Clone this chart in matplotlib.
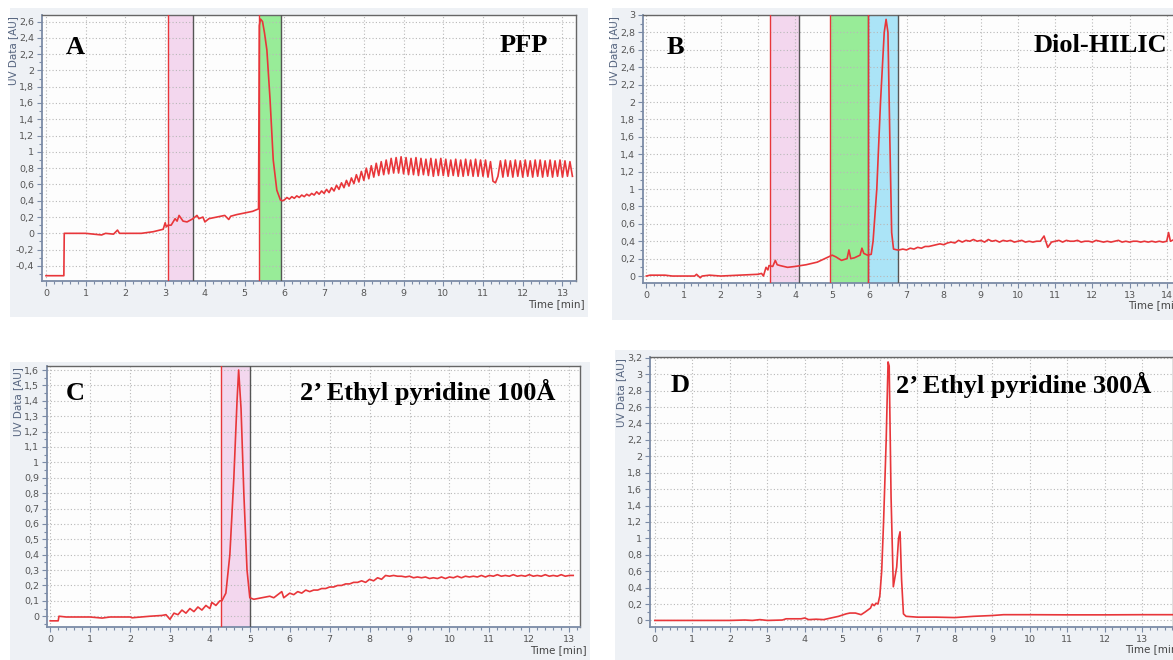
import numpy as np
import matplotlib
matplotlib.use('Agg')
import matplotlib.pyplot as plt
from matplotlib.patches import Rectangle
from matplotlib.ticker import MultipleLocator, FuncFormatter

# ---- Panel A (PFP) ----
a_t = [0, 0.45, 0.46, 0.6, 0.8, 1.0, 1.2, 1.4, 1.5, 1.7, 1.8, 1.85, 2.0, 2.4, 2.7, 2.95,
       3.0, 3.03, 3.07, 3.15, 3.25, 3.3, 3.35, 3.45, 3.55, 3.7, 3.8, 3.85, 3.95, 4.0, 4.1,
       4.3, 4.5, 4.6, 4.65, 4.8, 5.0, 5.2, 5.35, 5.37, 5.4, 5.45, 5.5, 5.56, 5.64, 5.72,
       5.81, 5.9, 5.95]
a_v = [-0.52, -0.52, 0.0, 0.0, 0.0, 0.0, -0.01, -0.02, 0.0, -0.01, 0.04, 0.0, 0.0, 0.0, 0.02, 0.05,
       0.13, 0.08, 0.1, 0.1, 0.18, 0.15, 0.22, 0.15, 0.14, 0.18, 0.22, 0.18, 0.2, 0.14, 0.18,
       0.2, 0.22, 0.17, 0.21, 0.23, 0.25, 0.27, 0.3, 2.55, 2.63, 2.6, 2.46, 2.25, 1.64, 0.9,
       0.53, 0.41, 0.40]
# oscillating baseline after the peak, one reading every 0.0625 min from 6.0 min
a_osc_start, a_osc_step = 6.0, 0.0625
a_osc = [0.41, 0.44, 0.42, 0.45, 0.43, 0.46, 0.44, 0.47, 0.45, 0.48, 0.46, 0.49, 0.47, 0.51, 0.48, 0.52,
         0.49, 0.54, 0.50, 0.56, 0.52, 0.59, 0.54, 0.62, 0.56, 0.65, 0.58, 0.68, 0.61, 0.72, 0.63, 0.76,
         0.65, 0.80, 0.67, 0.83, 0.69, 0.86, 0.71, 0.88, 0.72, 0.90, 0.73, 0.92, 0.74, 0.93, 0.74, 0.94,
         0.73, 0.93, 0.72, 0.92, 0.72, 0.93, 0.71, 0.92, 0.72, 0.91, 0.71, 0.92, 0.70, 0.91, 0.71, 0.92,
         0.71, 0.91, 0.70, 0.90, 0.71, 0.91, 0.70, 0.90, 0.70, 0.91, 0.71, 0.90, 0.70, 0.91, 0.70, 0.90,
         0.70, 0.90, 0.69, 0.88, 0.64, 0.62, 0.70, 0.89, 0.69, 0.90, 0.70, 0.89, 0.69, 0.90, 0.70, 0.89,
         0.69, 0.90, 0.70, 0.89, 0.69, 0.90, 0.70, 0.90, 0.69, 0.89, 0.70, 0.90, 0.69, 0.89, 0.70, 0.90,
         0.69, 0.89, 0.70, 0.88, 0.70]
a_bands = [(3.07, 3.69, '#f3d7ee'), (5.35, 5.92, '#98ec98')]

# ---- Panel B (Diol-HILIC) ----
b_t = [0, 0.1, 0.3, 0.5, 0.7, 1.0, 1.3, 1.35, 1.45, 1.5, 1.7, 2.0, 2.5, 3.0, 3.1, 3.15, 3.22,
       3.27, 3.3, 3.4, 3.47, 3.52, 3.6, 3.8, 4.0, 4.3, 4.6, 4.9, 5.0, 5.1, 5.25, 5.4, 5.45,
       5.5, 5.6, 5.75, 5.8, 5.85, 5.95, 6.05, 6.1, 6.2, 6.3, 6.4, 6.45, 6.5, 6.55, 6.6, 6.65, 6.75]
b_v = [0.0, 0.01, 0.01, 0.01, 0.0, 0.0, 0.0, 0.02, -0.02, 0.0, 0.01, 0.0, 0.01, 0.02, 0.03, 0.0, 0.1,
       0.07, 0.12, 0.11, 0.18, 0.13, 0.12, 0.10, 0.11, 0.13, 0.16, 0.22, 0.24, 0.22, 0.18, 0.2, 0.3,
       0.2, 0.21, 0.24, 0.32, 0.26, 0.24, 0.25, 0.4, 1.0, 2.0, 2.8, 2.95, 2.8, 1.6, 0.5, 0.31, 0.30]
b_tail_t = [6.8, 6.9, 7.0, 7.1, 7.2, 7.3, 7.4, 7.5, 7.6, 7.7, 7.8, 7.9, 8.0, 8.1, 8.2, 8.3, 8.4,
            8.5, 8.6, 8.7, 8.8, 8.9, 9.0, 9.1, 9.2, 9.3, 9.4, 9.5, 9.6, 9.7, 9.8, 9.9, 10.0,
            10.1, 10.2, 10.3, 10.4, 10.5, 10.6, 10.7, 10.8, 10.9, 11.0, 11.1, 11.2, 11.3, 11.4,
            11.5, 11.6, 11.7, 11.8, 11.9, 12.0, 12.1, 12.2, 12.3, 12.4, 12.5, 12.6, 12.7, 12.8,
            12.9, 13.0, 13.1, 13.2, 13.3, 13.4, 13.5, 13.6, 13.7, 13.8, 13.9, 14.0, 14.05, 14.1, 14.2]
b_tail_v = [0.30, 0.31, 0.30, 0.32, 0.31, 0.33, 0.32, 0.34, 0.34, 0.35, 0.36, 0.37, 0.36, 0.38,
            0.39, 0.38, 0.41, 0.39, 0.41, 0.40, 0.42, 0.40, 0.41, 0.39, 0.42, 0.40, 0.41, 0.39,
            0.41, 0.40, 0.41, 0.39, 0.40, 0.41, 0.39, 0.40, 0.39, 0.40, 0.40, 0.46, 0.33, 0.39,
            0.40, 0.41, 0.39, 0.41, 0.40, 0.40, 0.41, 0.39, 0.40, 0.40, 0.39, 0.41, 0.40, 0.39,
            0.40, 0.39, 0.40, 0.41, 0.39, 0.40, 0.39, 0.40, 0.40, 0.39, 0.40, 0.39, 0.40, 0.39,
            0.40, 0.39, 0.40, 0.50, 0.40, 0.42]
b_bands = [(3.34, 4.11, '#f3d7ee'), (4.94, 5.97, '#98ec98'), (5.97, 6.78, '#abe4f7')]

# ---- Panel C (2' Ethyl pyridine 100 A) ----
c_t = [0, 0.2, 0.22, 0.4, 1.0, 1.3, 1.5, 2.0, 2.05, 2.5, 2.8, 2.9, 2.95, 3.0, 3.05, 3.1, 3.2,
       3.3, 3.4, 3.5, 3.6, 3.7, 3.8, 3.9, 4.0, 4.05, 4.15, 4.25, 4.3, 4.4, 4.5, 4.6, 4.68,
       4.72, 4.78, 4.85, 4.93, 5.0, 5.1, 5.3, 5.5, 5.6, 5.8, 5.85,
       6.0, 6.1, 6.2, 6.3, 6.4, 6.5, 6.6, 6.7, 6.8, 6.9, 7.0, 7.1, 7.2, 7.3, 7.4, 7.5, 7.6,
       7.7, 7.8, 7.9, 8.0, 8.1, 8.2, 8.3, 8.4, 8.5, 8.6, 8.7, 8.8, 8.9, 9.0, 9.1, 9.2, 9.3,
       9.4, 9.5, 9.6, 9.7, 9.8, 9.9, 10.0, 10.1, 10.2, 10.3, 10.4, 10.5, 10.6, 10.7, 10.8,
       10.9, 11.0, 11.1, 11.2, 11.3, 11.4, 11.5, 11.6, 11.7, 11.8, 11.9, 12.0, 12.1, 12.2,
       12.3, 12.4, 12.5, 12.6, 12.7, 12.8, 12.9, 13.0, 13.1]
c_v = [-0.03, -0.03, 0.0, -0.005, -0.005, -0.012, -0.005, -0.005, -0.01, 0.0, 0.005, 0.01,
       -0.005, -0.02, 0.0, 0.02, 0.01, 0.04, 0.02, 0.05, 0.03, 0.06, 0.04, 0.07, 0.05, 0.09,
       0.07, 0.1, 0.1, 0.15, 0.4, 0.9, 1.4, 1.6, 1.35, 0.8, 0.3, 0.12, 0.11, 0.12, 0.13, 0.12,
       0.16, 0.12,
       0.15, 0.14, 0.16, 0.15, 0.17, 0.16, 0.17, 0.17, 0.18, 0.18, 0.19, 0.19, 0.20, 0.20,
       0.21, 0.21, 0.22, 0.22, 0.23, 0.22, 0.24, 0.23, 0.25, 0.24, 0.265, 0.26, 0.265, 0.26,
       0.26, 0.255, 0.26, 0.25, 0.255, 0.25, 0.255, 0.245, 0.25, 0.245, 0.255, 0.245, 0.255,
       0.25, 0.26, 0.25, 0.26, 0.255, 0.26, 0.255, 0.265, 0.255, 0.265, 0.26, 0.27, 0.26,
       0.265, 0.26, 0.27, 0.26, 0.265, 0.26, 0.27, 0.26, 0.265, 0.26, 0.27, 0.26, 0.265,
       0.26, 0.27, 0.26, 0.265, 0.265]
c_bands = [(4.28, 5.01, '#f3d7ee')]

# ---- Panel D (2' Ethyl pyridine 300 A) ----
d_t = [0, 1.0, 2.0, 2.4, 2.6, 2.8, 3.0, 3.4, 3.5, 3.9, 4.0, 4.1, 4.3, 4.5, 4.7, 4.9, 5.1,
       5.2, 5.35, 5.5, 5.6, 5.75, 5.8, 5.85, 5.9, 5.95, 6.0, 6.05, 6.1, 6.17, 6.22, 6.25, 6.3,
       6.36, 6.45, 6.5, 6.54, 6.58, 6.63, 6.7, 7.0, 7.5, 8.0, 8.5, 9.0, 9.3, 10.0, 11.0, 12.0,
       13.0, 13.85]
d_v = [0.0, 0.0, 0.0, 0.005, 0.0, 0.01, 0.0, 0.005, 0.02, 0.02, 0.03, 0.01, 0.015, 0.01, 0.03,
       0.05, 0.08, 0.09, 0.09, 0.07, 0.1, 0.15, 0.2, 0.18, 0.21, 0.2, 0.3, 0.6, 1.2, 2.2, 3.15,
       3.1, 1.5, 0.41, 0.65, 1.0, 1.08, 0.5, 0.08, 0.05, 0.04, 0.04, 0.035, 0.05, 0.06, 0.07,
       0.07, 0.068, 0.068, 0.07, 0.07]

W, H = 1173, 660
RED = '#e8363a'
EDGE = '#7b8ba6'


def box(l, t, r, b):
    return [l / W, 1 - b / H, (r - l) / W, (b - t) / H]


def comma(v, pos):
    v = round(v, 3)
    if v == 0:
        return '0'
    return ('%g' % v).replace('.', ',')


fig = plt.figure(figsize=(W / 100, H / 100), dpi=100)
fig.patch.set_facecolor('white')

for l, t, r, b in [(10, 8, 588, 317), (612, 8, 1185, 320), (10, 362, 590, 665), (615, 350, 1185, 665)]:
    fig.add_artist(Rectangle((l / W, 1 - b / H), (r - l) / W, (b - t) / H,
                             transform=fig.transFigure, facecolor='#eef1f5',
                             edgecolor='none', zorder=0))


def panel(rect, xlim, ylim, ystep, xs, ys, bands, letter, letter_xy, name, name_xy, time_off):
    ax = fig.add_axes(box(*rect))
    ax.set_facecolor('#fdfdfd')
    for x0, x1, col in bands:
        ax.axvspan(x0, x1, color=col, zorder=1, lw=0)
        ax.axvline(x0, color=RED, lw=1, zorder=3)
        ax.axvline(x1, color='#555555', lw=1, zorder=3)
    ax.plot(xs, ys, color=RED, lw=1.2, zorder=4)
    ax.set_xlim(*xlim)
    ax.set_ylim(*ylim)
    ax.xaxis.set_major_locator(MultipleLocator(1))
    ax.xaxis.set_minor_locator(MultipleLocator(0.2))
    ax.yaxis.set_major_locator(MultipleLocator(ystep))
    ax.yaxis.set_minor_locator(MultipleLocator(ystep / 2))
    ax.xaxis.set_major_formatter(FuncFormatter(comma))
    ax.yaxis.set_major_formatter(FuncFormatter(comma))
    ax.grid(True, which='major', color='#b8b8b8', linestyle=(0, (1, 2)), lw=0.8, zorder=2)
    ax.tick_params(which='both', direction='out', color=EDGE, labelcolor='#555555',
                   labelsize=6.8, pad=2, width=0.8)
    ax.tick_params(which='major', length=3.5)
    ax.tick_params(which='minor', length=2)
    for s in ['top', 'right']:
        ax.spines[s].set_color('#666666')
        ax.spines[s].set_linewidth(1)
    for s in ['left', 'bottom']:
        ax.spines[s].set_color(EDGE)
        ax.spines[s].set_linewidth(1.3)
    ax.annotate('UV Data [AU]', xy=(0, 1), xycoords='axes fraction',
                xytext=(-29 / 1.389, -1), textcoords='offset points',
                rotation=90, ha='center', va='top', fontsize=7.5, color='#55647f')
    ax.annotate('Time [min]', xy=(1, 0), xycoords='axes fraction',
                xytext=(time_off[0] / 1.389, -time_off[1] / 1.389), textcoords='offset points',
                ha='right', va='center', fontsize=7.5, color='#444444')
    fig.text(letter_xy[0] / W, 1 - letter_xy[1] / H, letter, fontsize=19, fontweight='bold',
             family='Liberation Serif', ha='left', va='center')
    fig.text(name_xy[0] / W, 1 - name_xy[1] / H, name, fontsize=19, fontweight='bold',
             family='Liberation Serif', ha=name_xy[2], va='center')
    return ax


a_x = list(a_t) + [a_osc_start + i * a_osc_step for i in range(len(a_osc))]
a_y = list(a_v) + list(a_osc)
panel((42, 15, 576, 281), (-0.1, 13.34), (-0.585, 2.68), 0.2, a_x, a_y, a_bands,
      'A', (66, 47), 'PFP', (548, 46, 'right'), (9, 23))

panel((643, 15, 1176, 283), (-0.09, 14.25), (-0.08, 3.0), 0.2,
      list(b_t) + list(b_tail_t), list(b_v) + list(b_tail_v), b_bands,
      'B', (667, 47), 'Diol-HILIC', (1167, 46, 'right'), (9, 22))

panel((47, 366, 580, 627), (-0.08, 13.27), (-0.07, 1.626), 0.1, c_t, c_v, c_bands,
      'C', (66, 394), '2\u2019 Ethyl pyridine 100\u00c5', (300, 392, 'left'), (7, 23))

panel((650, 357, 1173, 627), (-0.13, 13.82), (-0.08, 3.21), 0.2, d_t, d_v, [],
      'D', (671, 386), '2\u2019 Ethyl pyridine 300\u00c5', (896, 385, 'left'), (9, 22))

fig.savefig('out.png', dpi=100)
